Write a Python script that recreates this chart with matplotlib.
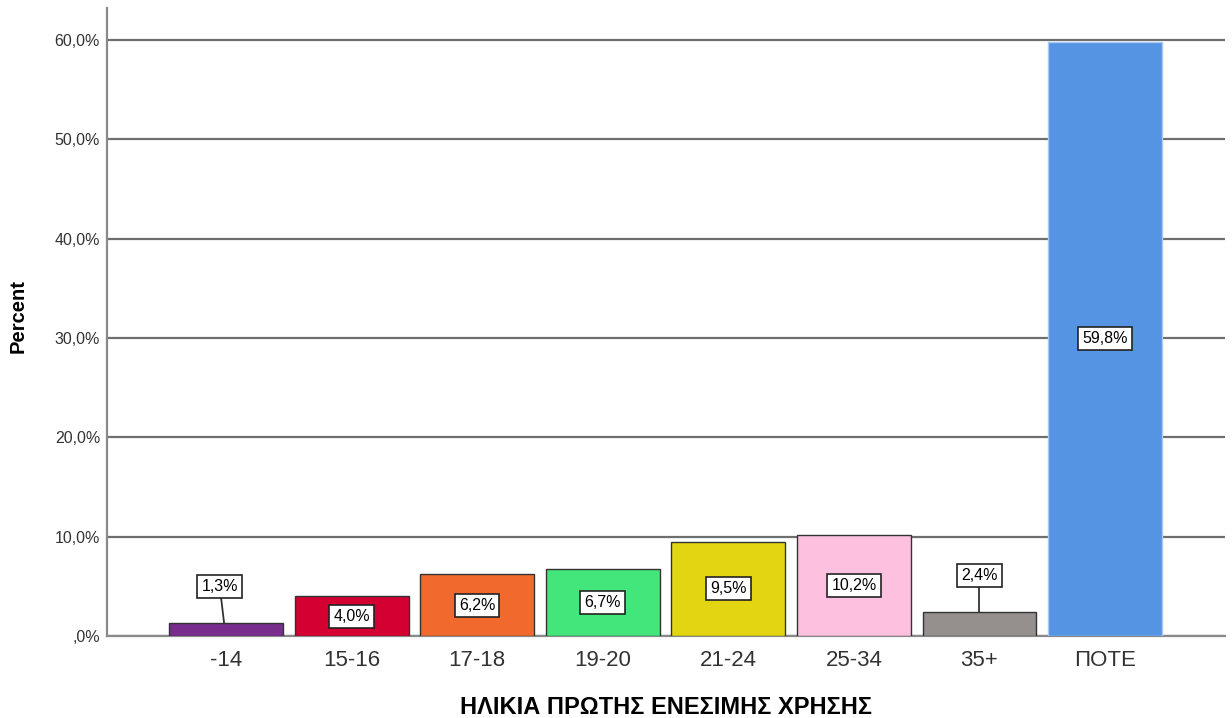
import matplotlib.pyplot as plt
import numpy as np

plt.rcParams['font.family'] = ['Liberation Sans', 'DejaVu Sans']

categories = ['-14', '15-16', '17-18', '19-20', '21-24', '25-34', '35+', 'ΠΟΤΕ']
percent = [1.3, 4.0, 6.2, 6.7, 9.5, 10.2, 2.4, 59.8]
colors = ['#782d8c', '#d40032', '#f1692d', '#42e67b', '#e2d613', '#fdc0df', '#958f8e', '#5594e3']
edges = ['#333333'] * 7 + ['#a9c9f2']
yticks = [0, 10, 20, 30, 40, 50, 60]
yticklabels = [',0%', '10,0%', '20,0%', '30,0%', '40,0%', '50,0%', '60,0%']

fig = plt.figure(figsize=(12.32, 7.18), dpi=100)
ax = fig.add_axes([0.0869, 0.1142, 0.9074, 0.8747])

x = np.arange(len(categories))
ax.bar(x, percent, width=0.907, color=colors, edgecolor=edges, linewidth=1.0, zorder=3)

ax.set_xlim(-0.947, 7.955)
ax.set_ylim(0, 63.2)
ax.set_yticks(yticks)
ax.set_yticklabels(yticklabels, fontsize=11.5, color='#333333')
ax.set_xticks(x)
ax.set_xticklabels(categories, fontsize=16, color='#333333')
ax.tick_params(axis='both', length=0)
ax.tick_params(axis='x', pad=10)
ax.tick_params(axis='y', pad=5)

ax.grid(axis='y', color='#6e6e6e', linewidth=1.6, zorder=1)
for s in ['top', 'right']:
    ax.spines[s].set_visible(False)
ax.spines['left'].set_color('#8a8a8a')
ax.spines['left'].set_linewidth(1.6)
ax.spines['bottom'].set_color('#8a8a8a')
ax.spines['bottom'].set_linewidth(1.6)

# value labels: middle of the bar, or above it with a leader line for small bars
box = dict(boxstyle='square,pad=0.25', facecolor='white', edgecolor='#222222', linewidth=1.2)
for xi, v in zip(x, percent):
    txt = f'{v:.1f}%'.replace('.', ',')
    if v < 3:
        ly = v + 3.7
        lx = xi - 0.05 if v < 2 else xi
        ax.plot([xi - 0.015 if v < 2 else xi, lx], [v, ly], color='#333333', lw=1.3, zorder=4)
        ax.text(lx, ly, txt, ha='center', va='center', fontsize=11.5, bbox=box, zorder=5)
    else:
        ax.text(xi, v / 2, txt, ha='center', va='center', fontsize=11.5, bbox=box, zorder=5)

ax.set_ylabel('Percent', fontsize=14.5, fontweight='bold')
ax.yaxis.set_label_coords(-0.071, 0.51)
ax.set_xlabel('ΗΛΙΚΙΑ ΠΡΩΤΗΣ ΕΝΕΣΙΜΗΣ ΧΡΗΣΗΣ', fontsize=17, fontweight='bold', labelpad=18)

fig.savefig('out.png', dpi=100, facecolor='white')
